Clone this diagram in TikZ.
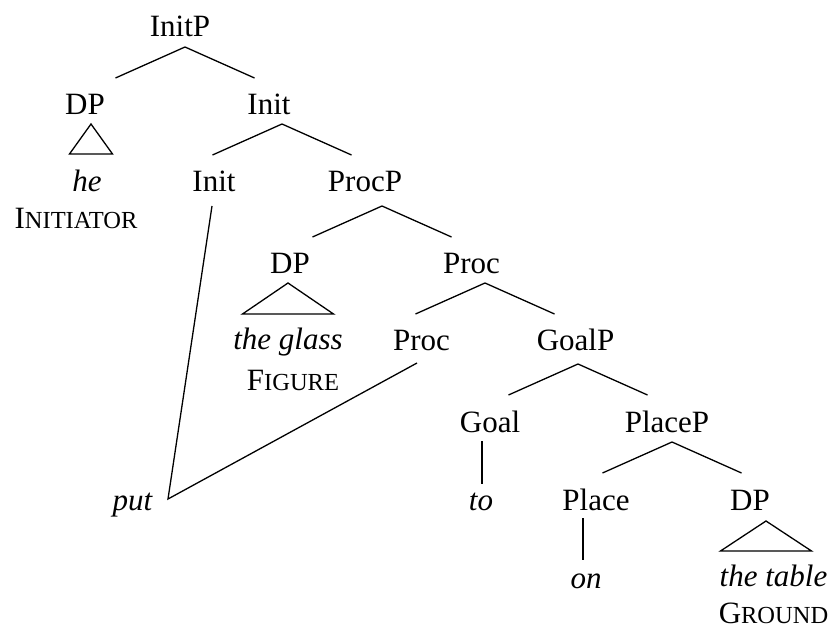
\documentclass[tikz,border=0pt]{standalone}
\usepackage{fontspec}
\setmainfont{Liberation Serif}

% small capitals by hand: first letter full size, the rest smaller
\newcommand{\fakesc}[2]{#1{\fontsize{24.5}{25}\selectfont #2}}

\tikzset{
    cat/.style={anchor=base, inner sep=0pt, font=\fontsize{31}{36}\selectfont},
    leaf/.style={cat, font=\fontsize{31}{36}\selectfont\itshape},
    branch/.style={line width=1.3pt},
}

\begin{document}
\begin{tikzpicture}[x=1pt, y=-1pt]

    \useasboundingbox (0,0) rectangle (832,628);

    % Phrase and head labels
    \node[cat] (initp)  at (180,37)    {InitP};
    \node[cat] (dp1)    at (85,115)    {DP};
    \node[cat] (init1)  at (269,115)   {Init};
    \node[cat] (init2)  at (214,192)   {Init};
    \node[cat] (procp)  at (365,192)   {ProcP};
    \node[cat] (dp2)    at (290,273)   {DP};
    \node[cat] (proc1)  at (471.5,273) {Proc};
    \node[cat] (proc2)  at (421.5,350) {Proc};
    \node[cat] (goalp)  at (575.5,350) {GoalP};
    \node[cat] (goal)   at (490,432)   {Goal};
    \node[cat] (placep) at (667,432)   {PlaceP};
    \node[cat] (place)  at (596,510)   {Place};
    \node[cat] (dp3)    at (750,510)   {DP};

    % Words and their roles
    \node[leaf] (he)     at (87,192)    {he};
    \node[cat]  (he-role) at (76,229)   {\fakesc{I}{NITIATOR}};
    \node[leaf] (glass)  at (288,349)   {the glass};
    \node[cat]  (glass-role) at (293,390) {\fakesc{F}{IGURE}};
    \node[leaf] (put)    at (132.5,510) {put};
    \node[leaf] (to)     at (481,510)   {to};
    \node[leaf] (on)     at (586,588)   {on};
    \node[leaf] (table)  at (773.5,586) {the table};
    \node[cat]  (table-role) at (773.5,623) {\fakesc{G}{ROUND}};

    % Branch points under each phrase
    \coordinate (initp-a)  at ([shift={(5,10)}]initp.base);
    \coordinate (init1-a)  at ([shift={(13,9)}]init1.base);
    \coordinate (procp-a)  at ([shift={(17,14)}]procp.base);
    \coordinate (proc1-a)  at ([shift={(13.5,10)}]proc1.base);
    \coordinate (goalp-a)  at ([shift={(2.5,14)}]goalp.base);
    \coordinate (placep-a) at ([shift={(5,10)}]placep.base);

    % Draw the binary branches
    \foreach \p in {initp-a, init1-a, procp-a, proc1-a, goalp-a, placep-a}
        \draw[branch] ([shift={(-69.5,31)}]\p) -- (\p) -- ++(69.5,31);

    % Triangles over the full DPs
    \coordinate (dp1-a) at ([shift={(6,9)}]dp1.base);
    \coordinate (dp2-a) at ([shift={(-2,10)}]dp2.base);
    \coordinate (dp3-a) at ([shift={(16,11)}]dp3.base);
    \draw[branch] (dp1-a) -- ++(-21.5,30) -- ++(43,0) -- cycle;
    \draw[branch] (dp2-a) -- ++(-45.5,31) -- ++(91,0) -- cycle;
    \draw[branch] (dp3-a) -- ++(-45.5,30) -- ++(91,0) -- cycle;

    % Heads over single words
    \draw[branch] ([shift={(-8,9)}]goal.base) -- ([shift={(1,-26)}]to.base);
    \draw[branch] ([shift={(-13,8)}]place.base) -- ([shift={(-3,-28)}]on.base);

    % Both heads meet in the one word
    \coordinate (put-end) at ([shift={(35.5,-11)}]put.base);
    \draw[branch] ([shift={(-2,14)}]init2.base) -- (put-end) -- ([shift={(-4.5,13)}]proc2.base);

\end{tikzpicture}
\end{document}
